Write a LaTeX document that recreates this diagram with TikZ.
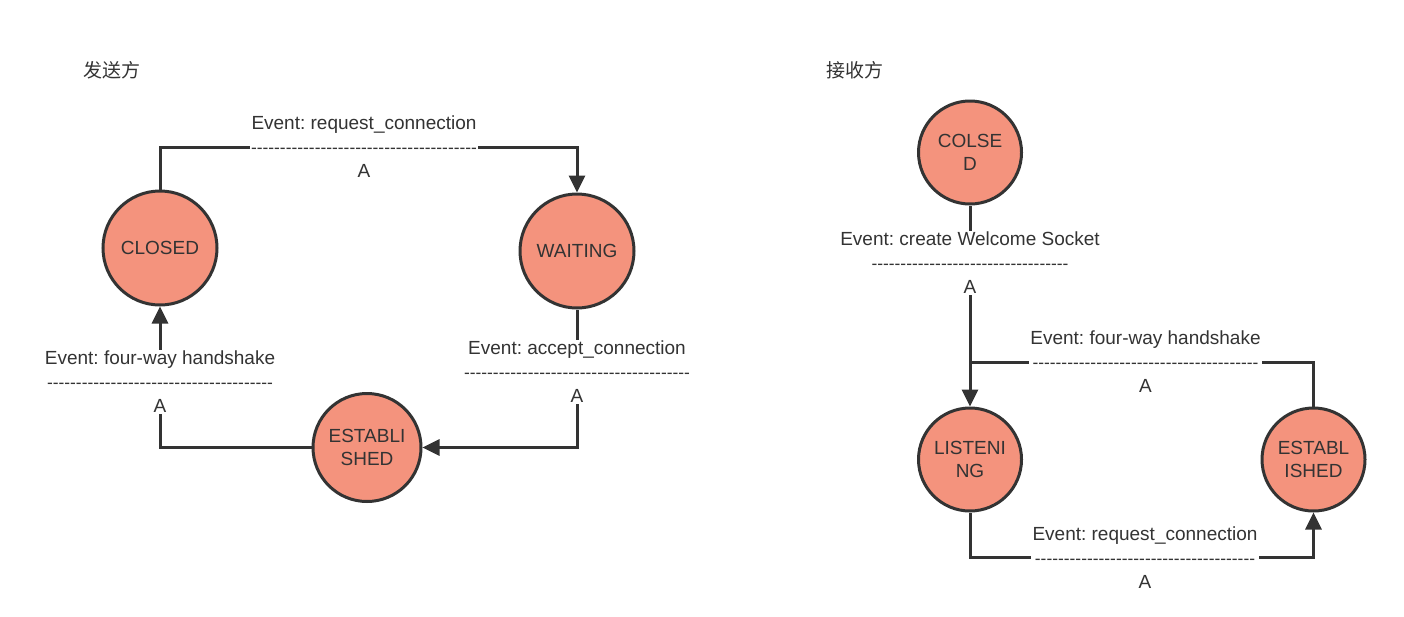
\documentclass[tikz,border=0pt]{standalone}
\usepackage{fontspec}
\setmainfont{Liberation Sans}
\newfontfamily\cjk{Noto Sans CJK SC}
\usetikzlibrary{arrows.meta}
\definecolor{ink}{HTML}{333333}
\definecolor{salmon}{HTML}{F4937D}
\frenchspacing
\ExplSyntaxOn
\cs_new:Npn \dashrow #1 { {\fontsize{17.4}{24}\selectfont \prg_replicate:nn {#1} {-\kern0pt} } }
\ExplSyntaxOff
\begin{document}
\begin{tikzpicture}[x=1pt,y=-1pt,
  every node/.style={text=ink},
  state/.style={circle,draw=ink,line width=3pt,fill=salmon,align=center,
    font=\fontsize{19}{23.5}\selectfont,inner sep=0pt},
  conn/.style={draw=ink,line width=3pt},
  tip/.style={-{Triangle[length=17pt,width=16pt]}},
  evt/.style={fill=white,align=center,font=\fontsize{19}{24}\selectfont,inner sep=1.5pt},
  ttl/.style={font=\cjk\fontsize{19}{24}\selectfont}]
\useasboundingbox[fill=white] (0,0) rectangle (1404,616);
% titles
\node[ttl] (t1) at (112,70) {发送方};
\node[ttl] (t2) at (855,70) {接收方};
% states, sender
\node[state,minimum size=114pt] (C1) at (160,248) {CLOSED};
\node[state,minimum size=114pt] (W1) at (577,251) {WAITING};
\node[state,minimum size=108pt] (E1) at (367,447.5) {ESTABLI\\SHED};
% states, receiver
\node[state,minimum size=103pt] (C2) at (970,152.5) {COLSE\\D};
\node[state,minimum size=103pt] (L2) at (970,459.5) {LISTENI\\NG};
\node[state,minimum size=103pt] (E2) at (1313.5,459.5) {ESTABL\\ISHED};
% connectors, sender
\draw[conn,tip] (C1.north) |- (364,147) -| (W1.north);
\draw[conn,tip] (W1.south) |- (E1.east);
\draw[conn,tip] (E1.west) -| (C1.south);
% connectors, receiver
\draw[conn,tip] (C2.south) -- (L2.north);
\coordinate (j2) at (970,362);
\draw[conn] (E2.north) |- (j2);
\draw[conn,tip] (L2.south) |- (1145,557.5) -| (E2.south);
% labels
\node[evt] (a1) at (364,147) {Event: request\_connection\\\dashrow{39}\\A};
\node[evt] (a2) at (577,372) {Event: accept\_connection\\\dashrow{39}\\A};
\node[evt] (a3) at (160,382) {Event: four-way handshake\\\dashrow{39}\\A};
\node[evt] (b1) at (970,263) {Event: create Welcome Socket\\\dashrow{34}\\A};
\node[evt] (b2) at (1145.5,362) {Event: four-way handshake\\\dashrow{39}\\A};
\node[evt] (b3) at (1145,557.5) {Event: request\_connection\\\dashrow{38}\\A};
\end{tikzpicture}
\end{document}
